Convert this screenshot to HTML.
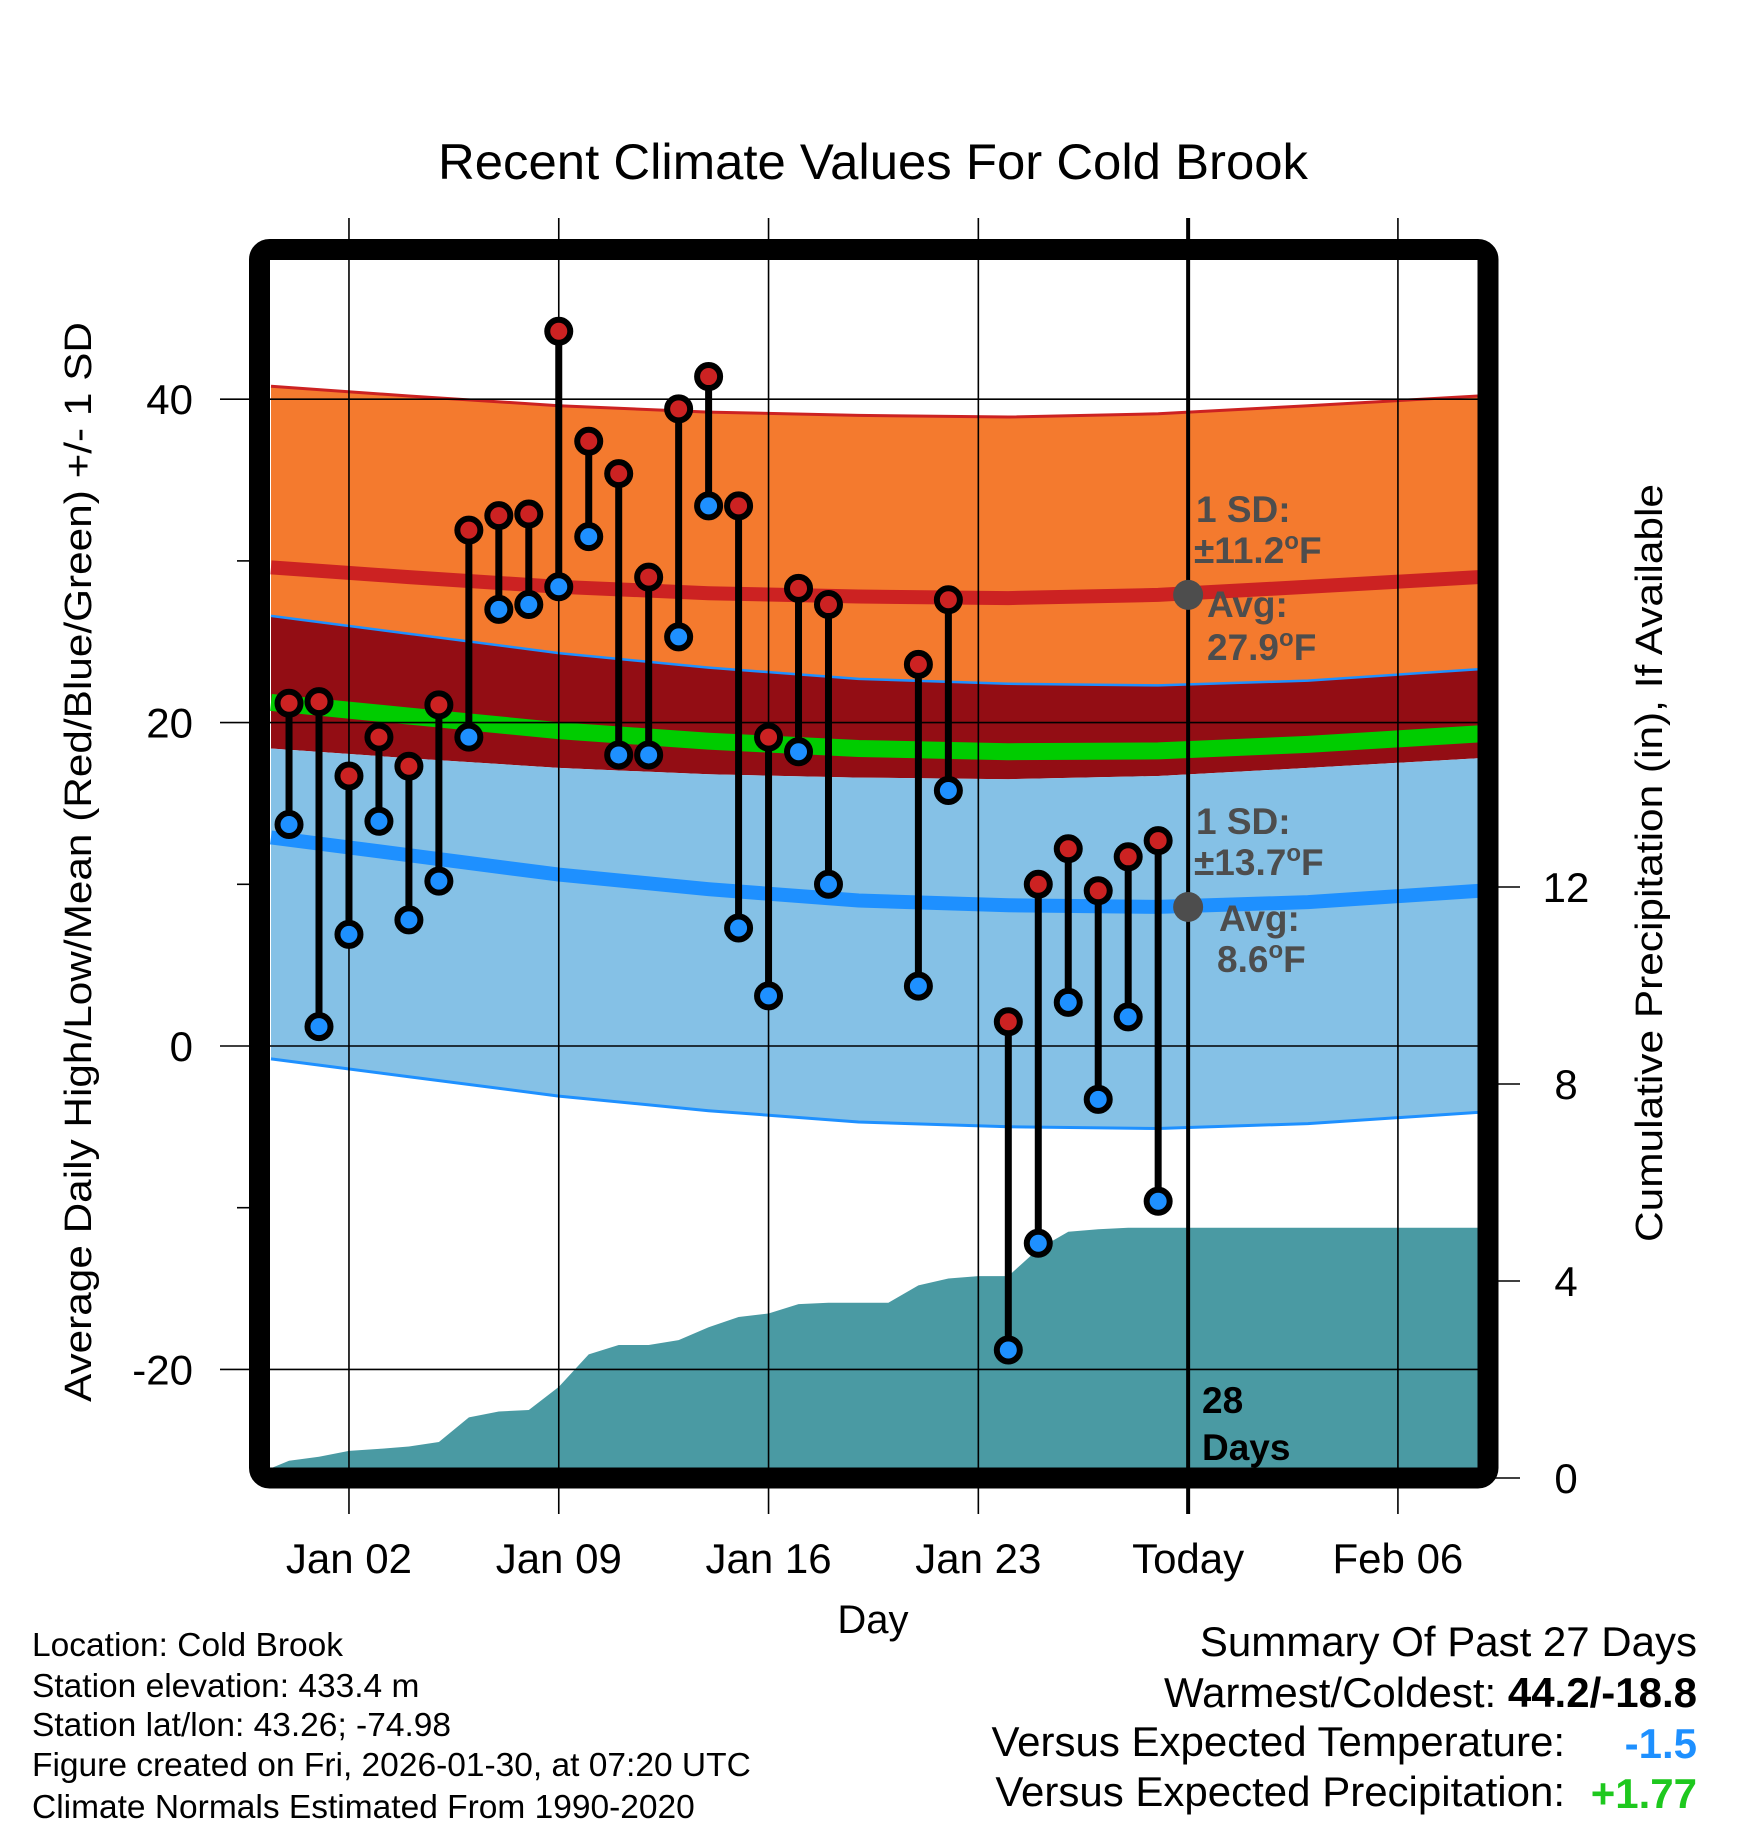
<!DOCTYPE html>
<html><head><meta charset="utf-8"><style>
html,body{margin:0;padding:0;background:#fff;}
svg{display:block;font-family:"Liberation Sans",Arial,sans-serif;}
</style></head><body>
<svg id="chart" width="1748" height="1828" viewBox="0 0 1748 1828" xmlns="http://www.w3.org/2000/svg">
<defs><clipPath id="plotclip"><rect x="270" y="260" width="1208" height="1208"/></clipPath></defs>
<text x="873" y="179" text-anchor="middle" font-size="50" textLength="870" lengthAdjust="spacingAndGlyphs">Recent Climate Values For Cold Brook</text>
<g id="plot" clip-path="url(#plotclip)"></g>
<g id="grid"></g>
<g id="marks" clip-path="url(#plotclip)"></g>
<rect x="259.5" y="249.5" width="1228.5" height="1228.5" rx="10" fill="none" stroke="#000" stroke-width="21"/>
<g id="axes"></g>
<g fill="#4d4d4d" font-weight="bold" font-size="37">
<text x="1196" y="522">1 SD:</text>
<text x="1194" y="563">±11.2<tspan font-size="24" dy="-14">o</tspan><tspan dy="14">F</tspan></text>
<text x="1207" y="617">Avg:</text>
<text x="1207" y="660">27.9<tspan font-size="24" dy="-14">o</tspan><tspan dy="14">F</tspan></text>
</g>
<g fill="#4d4d4d" font-weight="bold" font-size="37">
<text x="1196" y="834">1 SD:</text>
<text x="1194" y="875">±13.7<tspan font-size="24" dy="-14">o</tspan><tspan dy="14">F</tspan></text>
<text x="1219" y="931">Avg:</text>
<text x="1217" y="972">8.6<tspan font-size="24" dy="-14">o</tspan><tspan dy="14">F</tspan></text>
</g>
<g fill="#000" font-weight="bold" font-size="37">
<text x="1202" y="1413">28</text><text x="1202" y="1460">Days</text>
</g>
<text x="873" y="1633" text-anchor="middle" font-size="40">Day</text>
<text transform="translate(91,862) rotate(-90)" text-anchor="middle" font-size="38" textLength="1080" lengthAdjust="spacingAndGlyphs">Average Daily High/Low/Mean (Red/Blue/Green) +/- 1 SD</text>
<text transform="translate(1662,863) rotate(-90)" text-anchor="middle" font-size="38" textLength="758" lengthAdjust="spacingAndGlyphs">Cumulative Precipitation (in), If Available</text>
<g font-size="33.5">
<text x="32" y="1656">Location: Cold Brook</text>
<text x="32" y="1697">Station elevation: 433.4 m</text>
<text x="32" y="1736">Station lat/lon: 43.26; -74.98</text>
<text x="32" y="1776">Figure created on Fri, 2026-01-30, at 07:20 UTC</text>
<text x="32" y="1818">Climate Normals Estimated From 1990-2020</text>
</g>
<g font-size="42" text-anchor="end">
<text x="1697" y="1656">Summary Of Past 27 Days</text>
<text x="1697" y="1707">Warmest/Coldest: <tspan font-weight="bold">44.2/-18.8</tspan></text>
<text x="1565" y="1756">Versus Expected Temperature:</text>
<text x="1697" y="1758" fill="#1e90ff" font-weight="bold">-1.5</text>
<text x="1565" y="1806">Versus Expected Precipitation:</text>
<text x="1697" y="1808" fill="#1ec81e" font-weight="bold">+1.77</text>
</g>
</svg>
<script>
// ---- data ----
const dayOffsets = [-1,0,1,2,3,4,5,6,7,8,9,10,11,12,13,14,15,16,17,20,21,23,24,25,26,27,28];
const dayHighs = [21.2,21.3,16.7,19.1,17.3,21.1,31.9,32.8,32.9,44.2,37.4,35.4,29.0,39.4,41.4,33.4,19.1,28.3,27.3,23.6,27.6,1.5,10.0,12.2,9.6,11.7,12.7];
const dayLows = [13.7,1.2,6.9,13.9,7.8,10.2,19.1,27.0,27.3,28.4,31.5,18.0,18.0,25.3,33.4,7.3,3.1,18.2,10.0,3.7,15.8,-18.8,-12.2,2.7,-3.3,1.8,-9.6];
const normalDays = [-1.6,3,8,13,18,23,28,33,38.7];
const normalHigh = [29.6,29.0,28.4,28.0,27.8,27.7,27.9,28.4,29.0];
const normalLow = [12.9,11.8,10.6,9.7,9.0,8.7,8.6,8.9,9.6];
const sdHigh = 11.2;
const sdLow = 13.7;
const precipDays = [-1.6,-1,0,1,2,3,4,5,6,7,8,9,10,11,12,13,14,15,16,17,18,19,20,21,22,23,24,25,26,27,28,29,38.7];
const precipCum = [0.2,0.35,0.43,0.55,0.59,0.64,0.73,1.23,1.35,1.38,1.85,2.51,2.7,2.7,2.8,3.06,3.27,3.34,3.53,3.56,3.56,3.56,3.91,4.05,4.1,4.1,4.65,5.0,5.05,5.08,5.08,5.08,5.08];
const xTickDays = [1,8,15,22,29,36];
const xTickLabels = ["Jan 02","Jan 09","Jan 16","Jan 23","Today","Feb 06"];
const yTicks = [40,20,0,-20];
const yMinorTicks = [30,10,-10];
const y2Ticks = [0,4,8,12];
const todayDay = 29;
// ---- scales ----
const X = d => 319 + d*29.97;
const Y = t => 1046 - t*16.17;
const Y2 = p => 1478 - p*49.25;
const NS = "http://www.w3.org/2000/svg";
function mk(tag, parent, attrs){const e=document.createElementNS(NS,tag);for(const k in attrs)e.setAttribute(k,attrs[k]);parent.appendChild(e);return e;}
const plot=document.getElementById('plot'), grid=document.getElementById('grid'), marks=document.getElementById('marks'), axes=document.getElementById('axes');
function pts(days, vals){return days.map((d,i)=>X(d).toFixed(1)+","+vals[i].toFixed(1));}
function band(upper, lower, fill, name){
  const up = pts(normalDays, upper.map(Y));
  const lo = pts(normalDays, lower.map(Y)).reverse();
  const p = mk('polygon', plot, {points: up.concat(lo).join(' '), fill: fill});
  
  
}
function line(vals, stroke, w, name){
  const p = mk('polyline', plot, {points: pts(normalDays, vals.map(Y)).join(' '), fill:'none', stroke: stroke, 'stroke-width': w});
  
  
}
const hiP = normalHigh.map(v=>v+sdHigh), hiM = normalHigh.map(v=>v-sdHigh);
const loP = normalLow.map(v=>v+sdLow), loM = normalLow.map(v=>v-sdLow);
const mean = normalHigh.map((v,i)=>(v+normalLow[i])/2);
band(hiP, loP, '#f47a2e', 'high-sd-band');
band(loP, hiM, '#930d14', 'overlap-band');
band(hiM, loM, '#85c1e6', 'low-sd-band');
line(hiP, '#cc2222', 3, 'high-plus-sd-line');
line(normalHigh, '#cc2222', 14, 'normal-high-line');
line(loP, '#1e90ff', 2.5, 'low-plus-sd-line');
line(mean, '#00cc00', 17, 'normal-mean-line');
line(normalLow, '#1e90ff', 14, 'normal-low-line');
line(loM, '#1e90ff', 3, 'low-minus-sd-line');
// precip area
{
  const top = pts(precipDays, precipCum.map(Y2));
  const poly = top.concat([X(precipDays[precipDays.length-1]).toFixed(1)+",1480", X(precipDays[0]).toFixed(1)+",1480"]);
  const p = mk('polygon', plot, {points: poly.join(' '), fill:'#4a9aa3'});
  
  
}
// grid
xTickDays.forEach((d,i)=>{
  const l = mk('line', grid, {x1:X(d), x2:X(d), y1:218, y2:1514, stroke:'#000', 'stroke-width': d===todayDay?4:1.6});
  
  
  const t = mk('text', axes, {x:X(d), y:1573, 'text-anchor':'middle', 'font-size':42});
  t.textContent = xTickLabels[i];
  
  
});
yTicks.forEach(v=>{
  const l = mk('line', grid, {x1:220, x2:1478, y1:Y(v), y2:Y(v), stroke:'#000', 'stroke-width':1.6});
  
  
  const t = mk('text', axes, {x:193, y:Y(v)+15, 'text-anchor':'end', 'font-size':42});
  t.textContent = v;
  
  
});
yMinorTicks.forEach(v=>{
  const l = mk('line', axes, {x1:237, x2:250, y1:Y(v), y2:Y(v), stroke:'#000', 'stroke-width':1.6});
  
  
});
y2Ticks.forEach(v=>{
  const l = mk('line', axes, {x1:1490, x2:1520, y1:Y2(v), y2:Y2(v), stroke:'#000', 'stroke-width':1.6});
  
  
  const t = mk('text', axes, {x:1566, y:Y2(v)+15, 'text-anchor':'middle', 'font-size':42});
  t.textContent = v;
  
  
});
// daily marks
dayOffsets.forEach((d,i)=>{
  const x = X(d);
  const s = mk('line', marks, {x1:x, x2:x, y1:Y(dayHighs[i]), y2:Y(dayLows[i]), stroke:'#000', 'stroke-width':7});
  
  
  const h = mk('circle', marks, {cx:x, cy:Y(dayHighs[i]), r:11.5, fill:'#cc2222', stroke:'#000', 'stroke-width':6});
  
  
  const lo = mk('circle', marks, {cx:x, cy:Y(dayLows[i]), r:11.5, fill:'#1e90ff', stroke:'#000', 'stroke-width':6});
  
  
});
// today normal markers
[[normalHigh[6],'today-high-normal-dot'],[normalLow[6],'today-low-normal-dot']].forEach(a=>{
  const c = mk('circle', marks, {cx:X(todayDay), cy:Y(a[0]), r:15, fill:'#4d4d4d'});
  
  
});
</script>
</body></html>
